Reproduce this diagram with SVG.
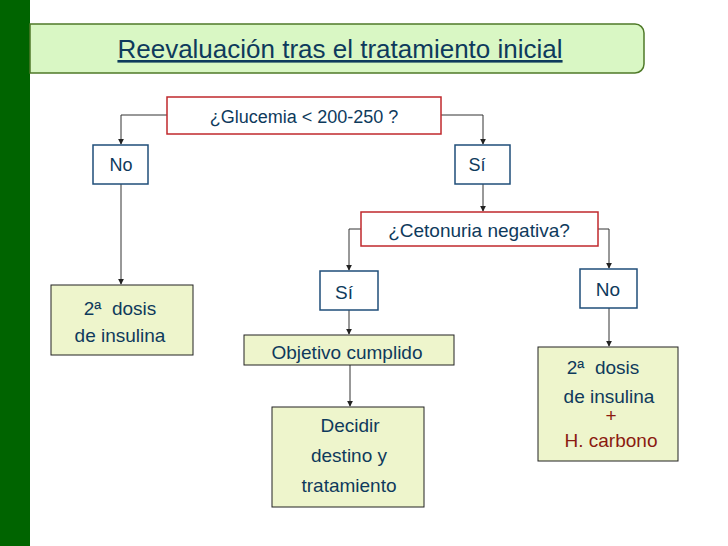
<svg xmlns="http://www.w3.org/2000/svg" width="728" height="546" viewBox="0 0 728 546">
<defs>
<style>
text{font-family:"Liberation Sans",Arial,sans-serif;fill:#0e3a5c;text-anchor:middle}
.q{fill:#fff;stroke:#c0282d;stroke-width:1.5}
.b{fill:#fff;stroke:#1f4e79;stroke-width:1.5}
.g{fill:#eef5cc;stroke:#222;stroke-width:1}
.c line,.c polyline{fill:none;stroke:#333;stroke-width:1;marker-end:url(#a)}
</style>
<marker id="a" viewBox="0 0 8 8" refX="7" refY="4" markerWidth="6" markerHeight="6" orient="auto"><path d="M0,0L8,4L0,8z" fill="#222"/></marker>
</defs>
<rect width="728" height="546" fill="#fff"/>
<rect x="0" y="0" width="30" height="546" fill="#006400"/>
<g id="title"><path d="M30,24H635a9,9 0 0 1 9,9V64a9,9 0 0 1-9,9H30z" fill="#d9f7c4" stroke="#4f7a28" stroke-width="1.5"/>
<text x="340" y="58" font-size="26" text-decoration="underline">Reevaluación tras el tratamiento inicial</text></g>
<g class="c">
<polyline points="167,115 121,115 121,144"/>
<polyline points="441,115 483,115 483,144"/>
<line x1="121" y1="184" x2="121" y2="284"/>
<line x1="483" y1="184" x2="483" y2="211"/>
<polyline points="361,229 349,229 349,270"/>
<polyline points="598,229 609,229 609,268"/>
<line x1="349" y1="310" x2="349" y2="334"/>
<line x1="609" y1="308" x2="609" y2="346"/>
<line x1="350" y1="365" x2="350" y2="406"/>
</g>
<g id="n1"><rect class="q" x="167" y="97" width="274" height="37"/><text x="304" y="123" font-size="18">¿Glucemia &lt; 200-250 ?</text></g>
<g id="n2"><rect class="b" x="93" y="145" width="55" height="39"/><text x="121" y="171" font-size="18">No</text></g>
<g id="n3"><rect class="b" x="455" y="145" width="55" height="39"/><text x="477" y="171" font-size="18">Sí</text></g>
<g id="n4"><rect class="g" x="51" y="285" width="142" height="70"/><text x="120" y="315" font-size="19" xml:space="preserve">2ª  dosis</text><text x="120" y="342" font-size="19">de insulina</text></g>
<g id="n5"><rect class="q" x="361" y="212" width="237" height="34"/><text x="479" y="237" font-size="19">¿Cetonuria negativa?</text></g>
<g id="n6"><rect class="b" x="320" y="271" width="58" height="39"/><text x="344" y="299" font-size="19">Sí</text></g>
<g id="n7"><rect class="b" x="580" y="269" width="57" height="39"/><text x="608" y="296" font-size="19">No</text></g>
<g id="n8"><rect class="g" x="244" y="335" width="210" height="30"/><text x="347" y="359" font-size="19">Objetivo cumplido</text></g>
<g id="n9"><rect class="g" x="272" y="407" width="152" height="100"/><text x="350" y="432" font-size="19">Decidir</text><text x="349" y="462" font-size="19">destino y</text><text x="349" y="492" font-size="19">tratamiento</text></g>
<g id="n10"><rect class="g" x="538" y="347" width="140" height="114"/><text x="603" y="374" font-size="19" xml:space="preserve">2ª  dosis</text><text x="609" y="403" font-size="19">de insulina</text><text x="611" y="422" font-size="19" style="fill:#8b1a10">+</text><text x="611" y="447" font-size="19" style="fill:#8b1a10">H. carbono</text></g>
</svg>
